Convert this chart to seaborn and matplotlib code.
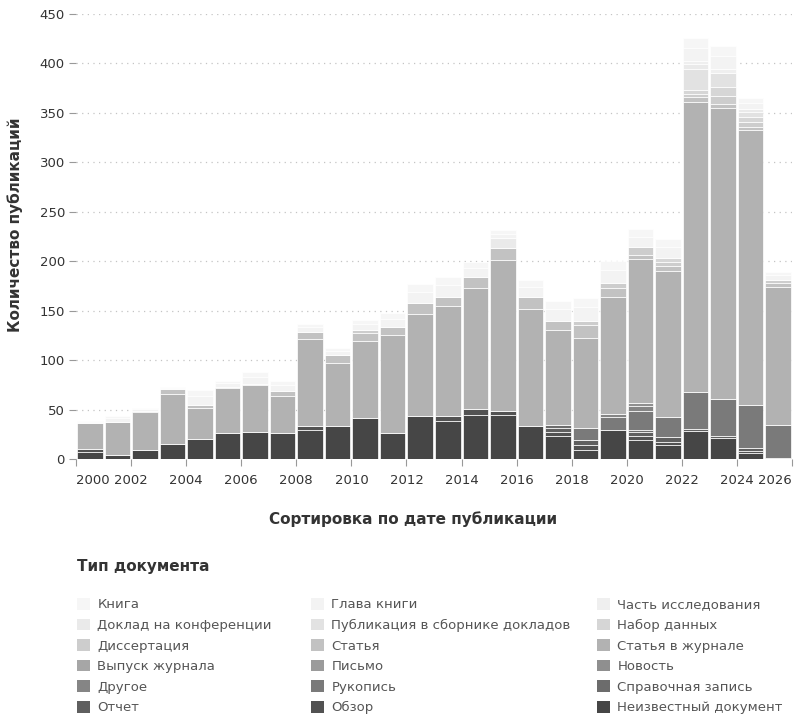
import numpy as np
import pandas as pd
import matplotlib.pyplot as plt
from matplotlib.patches import Patch
import seaborn as sns

# ── Data ─────────────────────────────────────────────────────────────────────
YEARS = list(range(2000, 2026))

# legend order (row-major, 3 columns); first item is drawn on top of the stack
TYPES = [
    "Книга", "Глава книги", "Часть исследования",
    "Доклад на конференции", "Публикация в сборнике докладов", "Набор данных",
    "Диссертация", "Статья", "Статья в журнале",
    "Выпуск журнала", "Письмо", "Новость",
    "Другое", "Рукопись", "Справочная запись",
    "Отчет", "Обзор", "Неизвестный документ",
]

#            2000 ...                                                              2025
BOOK       = [1, 2, 1, 1, 6, 2, 5, 4, 4, 3, 4, 6, 8, 8, 6, 4, 7, 8, 9, 9, 8, 8, 10, 10, 5, 3]
CHAPTER    = [1, 4, 2, 1, 9, 4, 7, 6, 5, 4, 7, 9, 11, 12, 9, 5, 10, 12, 14, 13, 11, 11, 14, 14, 6, 5]
COMPONENT  = [0, 0, 0, 0, 0, 0, 0, 0, 0, 0, 0, 0, 0, 0, 0, 0, 0, 0, 0, 0, 0, 0, 3, 4, 0, 0]
CONF_PAPER = [0, 0, 0, 0, 0, 0, 0, 0, 0, 0, 0, 0, 0, 0, 0, 10, 0, 0, 0, 0, 0, 0, 5, 0, 3, 0]
PROCEEDING = [0, 0, 0, 0, 0, 0, 0, 0, 0, 0, 0, 0, 0, 0, 0, 0, 0, 0, 0, 0, 0, 0, 21, 14, 5, 0]
DATASET    = [0, 0, 0, 0, 0, 0, 0, 0, 0, 0, 0, 0, 0, 0, 0, 0, 0, 0, 0, 0, 0, 4, 4, 9, 5, 0]
THESIS     = [0, 0, 0, 0, 0, 0, 0, 0, 0, 0, 3, 0, 0, 0, 0, 0, 0, 0, 4, 5, 8, 4, 3, 8, 5, 3]
ARTICLE    = [0, 0, 1, 5, 3, 1, 1, 5, 7, 8, 8, 8, 11, 9, 11, 12, 12, 10, 14, 9, 4, 5, 5, 4, 3, 4]
JOURNAL_AR = [26, 33, 39, 51, 32, 46, 48, 38, 88, 64, 78, 99, 104, 112, 122, 152, 119, 96, 91, 118,
              145, 148, 293, 294, 278, 140]
ISSUE      = [0] * 26
LETTER     = [0] * 26
NEWS       = [0, 0, 0, 0, 0, 0, 0, 0, 0, 0, 0, 0, 0, 0, 0, 0, 0, 0, 0, 0, 3, 0, 0, 0, 0, 0]
OTHER      = [0, 0, 0, 0, 0, 0, 0, 0, 0, 0, 0, 0, 0, 0, 0, 0, 0, 0, 0, 4, 5, 0, 0, 0, 0, 0]
PREPRINT   = [0, 0, 0, 0, 0, 0, 0, 0, 0, 0, 0, 0, 0, 0, 0, 0, 0, 0, 12, 13, 20, 20, 38, 38, 44, 33]
REFERENCE  = [0, 0, 0, 0, 0, 0, 0, 0, 0, 0, 0, 0, 0, 0, 0, 0, 0, 3, 0, 0, 2, 0, 0, 0, 0, 0]
REPORT     = [0, 0, 0, 0, 0, 0, 0, 0, 0, 0, 0, 0, 0, 0, 0, 0, 0, 4, 5, 0, 4, 5, 2, 2, 3, 1]
REVIEW     = [3, 0, 0, 0, 0, 0, 0, 0, 4, 0, 0, 0, 0, 5, 7, 4, 0, 4, 5, 0, 4, 3, 0, 0, 2, 0]
UNKNOWN    = [7, 4, 9, 15, 20, 26, 27, 26, 29, 33, 41, 26, 43, 38, 44, 45, 33, 23, 9, 29, 19, 14,
              28, 21, 6, 0]

SERIES = [BOOK, CHAPTER, COMPONENT, CONF_PAPER, PROCEEDING, DATASET, THESIS, ARTICLE,
          JOURNAL_AR, ISSUE, LETTER, NEWS, OTHER, PREPRINT, REFERENCE, REPORT, REVIEW, UNKNOWN]

# grey ramp, lightest (Книга) → darkest (Неизвестный документ)
GREYS = [
    "#f6f6f6", "#f3f3f3", "#efefef", "#eaeaea", "#e2e2e2", "#d6d6d6",
    "#cdcdcd", "#c2c2c2", "#b2b2b2", "#a6a6a6", "#9b9b9b", "#8f8f8f",
    "#858585", "#7a7a7a", "#6c6c6c", "#5f5f5f", "#525252", "#464646",
]
PALETTE = dict(zip(TYPES, GREYS))

# long table for seaborn
df = pd.DataFrame(
    [(y + 0.5, t, float(v)) for t, vals in zip(TYPES, SERIES) for y, v in zip(YEARS, vals)],
    columns=["year", "type", "count"],
)

# ── Style ────────────────────────────────────────────────────────────────────
sns.set_theme(style="white")
plt.rcParams["font.family"] = ["DejaVu Sans"]
TXT = "#333333"

fig = plt.figure(figsize=(7.95, 7.14), dpi=100)
ax = fig.add_axes([76 / 795, 1 - 459 / 714, 716 / 795, 445 / 714])

sns.histplot(
    data=df, x="year", weights="count", hue="type",
    hue_order=TYPES, palette=PALETTE, multiple="stack",
    binwidth=1, binrange=(2000, 2026), shrink=0.93, alpha=1,
    edgecolor="white", linewidth=0.5, legend=False, ax=ax,
)

ax.set_xlim(2000, 2026)
ax.set_ylim(0, 450)
ax.set_yticks(range(0, 451, 50))
xt = list(range(2000, 2027, 2))
ax.set_xticks(xt)
ax.set_xticklabels([str(x) for x in xt])
labs = ax.get_xticklabels()
labs[0].set_ha("left")
labs[-1].set_ha("right")

ax.set_xlabel("")
ax.set_ylabel("")
for s in ax.spines.values():
    s.set_visible(False)
ax.yaxis.grid(True, color="#c4c4c4", linestyle=(0, (1, 3.5)), linewidth=0.9)
ax.xaxis.grid(False)
ax.set_axisbelow(True)
ax.tick_params(axis="both", labelsize=9.5, colors="#999999", labelcolor=TXT)
ax.tick_params(axis="y", length=5, width=0.8, pad=3, left=True)
ax.tick_params(axis="x", length=5, width=0.8, pad=6, bottom=True)

fig.text(15 / 795, 1 - 225 / 714, "Количество публикаций", rotation=90,
         ha="center", va="center", fontsize=11, fontweight="bold", color=TXT)
fig.text(413 / 795, 1 - 519 / 714, "Сортировка по дате публикации",
         ha="center", va="center", fontsize=11, fontweight="bold", color=TXT)

# ── Legend: title + three columns, filled row by row ─────────────────────────
fig.text(77 / 795, 1 - 566 / 714, "Тип документа", ha="left", va="center",
         fontsize=11, fontweight="bold", color=TXT)

for col, x0 in enumerate([77, 311, 597]):
    names = TYPES[col::3]
    handles = [Patch(facecolor=PALETTE[n], edgecolor="none") for n in names]
    fig.legend(
        handles, names, loc="upper left",
        bbox_to_anchor=(x0 / 795, 1 - 598 / 714),
        frameon=False, fontsize=9.5, labelcolor="#555555",
        handlelength=1.0, handleheight=1.0, handletextpad=0.55,
        labelspacing=0.54, borderpad=0, borderaxespad=0,
    )

fig.savefig("out.png", dpi=100)
